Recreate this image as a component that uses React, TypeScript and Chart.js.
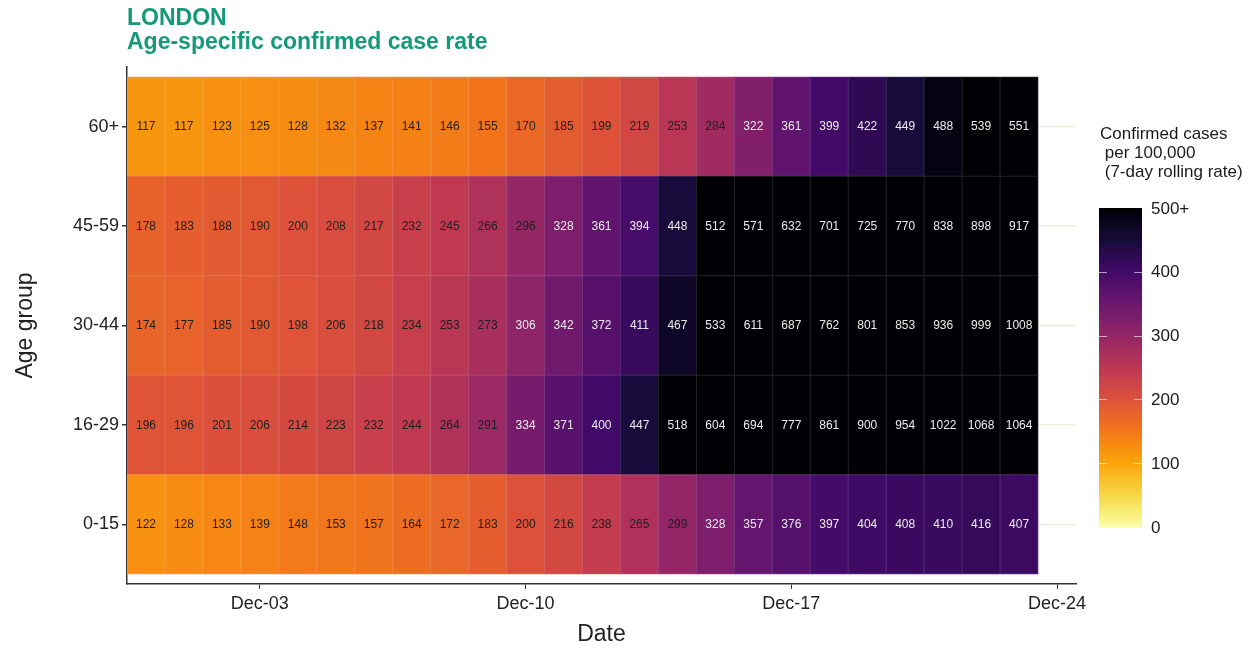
import React, { useEffect, useRef } from "react";
import { Chart, registerables } from "chart.js";

Chart.register(...registerables);

// ---- Data ----
const ageGroups = ["0-15", "16-29", "30-44", "45-59", "60+"];
const dates = [
  "Nov-30", "Dec-01", "Dec-02", "Dec-03", "Dec-04", "Dec-05", "Dec-06", "Dec-07",
  "Dec-08", "Dec-09", "Dec-10", "Dec-11", "Dec-12", "Dec-13", "Dec-14", "Dec-15",
  "Dec-16", "Dec-17", "Dec-18", "Dec-19", "Dec-20", "Dec-21", "Dec-22", "Dec-23",
];
const rate0to15 = [122, 128, 133, 139, 148, 153, 157, 164, 172, 183, 200, 216, 238, 265, 299, 328, 357, 376, 397, 404, 408, 410, 416, 407];
const rate16to29 = [196, 196, 201, 206, 214, 223, 232, 244, 264, 291, 334, 371, 400, 447, 518, 604, 694, 777, 861, 900, 954, 1022, 1068, 1064];
const rate30to44 = [174, 177, 185, 190, 198, 206, 218, 234, 253, 273, 306, 342, 372, 411, 467, 533, 611, 687, 762, 801, 853, 936, 999, 1008];
const rate45to59 = [178, 183, 188, 190, 200, 208, 217, 232, 245, 266, 296, 328, 361, 394, 448, 512, 571, 632, 701, 725, 770, 838, 898, 917];
const rate60plus = [117, 117, 123, 125, 128, 132, 137, 141, 146, 155, 170, 185, 199, 219, 253, 284, 322, 361, 399, 422, 449, 488, 539, 551];
const rowValues = [rate0to15, rate16to29, rate30to44, rate45to59, rate60plus];
const xTickLabels = ["Dec-03", "Dec-10", "Dec-17", "Dec-24"];
const xTickPositions = [3, 10, 17, 24];
const legendTicks = [0, 100, 200, 300, 400, 500];
const legendTickLabels = ["0", "100", "200", "300", "400", "500+"];
const colorMax = 500;

// inferno colormap stops (t = 0 dark -> 1 light)
const inferno = [
  "#000004", "#160b39", "#420a68", "#6a176e", "#932667", "#bc3754",
  "#dd513a", "#f37819", "#fca50a", "#f6d746", "#fcffa4",
];

function hexToRgb(h: string) {
  const n = parseInt(h.slice(1), 16);
  return [(n >> 16) & 255, (n >> 8) & 255, n & 255];
}
function infernoRgb(t: number) {
  t = Math.max(0, Math.min(1, t));
  const p = t * (inferno.length - 1);
  const i = Math.min(inferno.length - 2, Math.floor(p));
  const f = p - i;
  const a = hexToRgb(inferno[i]);
  const b = hexToRgb(inferno[i + 1]);
  return a.map((v, k) => Math.round(v + (b[k] - v) * f));
}
const rgbStr = (c: number[]) => `rgb(${c[0]},${c[1]},${c[2]})`;
function infernoAt(t: number) {
  return rgbStr(infernoRgb(t));
}
function rgbFor(v: number) {
  return infernoRgb(1 - Math.min(v, colorMax) / colorMax);
}
function colorFor(v: number) {
  return rgbStr(rgbFor(v));
}
function edgeFor(v: number) {
  const c = rgbFor(v);
  return rgbStr(c.map((x) => Math.round(x + (255 - x) * 0.14)));
}

const FONT = "'Liberation Sans', Arial, Helvetica, sans-serif";

const cellLabels = {
  id: "cellLabels",
  afterDatasetsDraw(chart: any) {
    const ctx = chart.ctx;
    ctx.save();
    ctx.font = `12px ${FONT}`;
    ctx.textAlign = "center";
    ctx.textBaseline = "middle";
    chart.data.datasets.forEach((ds: any, di: number) => {
      const meta = chart.getDatasetMeta(di);
      meta.data.forEach((el: any, i: number) => {
        const v = rowValues[di][i];
        const cy = (el.y + el.base) / 2;
        ctx.fillStyle = v < 300 ? "#1e1e1e" : "#ececec";
        ctx.fillText(String(v), el.x, cy + 0.5);
      });
    });
    ctx.restore();
  },
};

const decorations = {
  id: "decorations",
  afterDraw(chart: any) {
    const ctx = chart.ctx;
    ctx.save();
    // Titles
    ctx.fillStyle = "#14997a";
    ctx.font = `bold 23px ${FONT}`;
    ctx.textAlign = "left";
    ctx.textBaseline = "middle";
    ctx.fillText("LONDON", 127, 19);
    ctx.fillText("Age-specific confirmed case rate", 127, 43);

    // Legend title
    ctx.fillStyle = "#1a1a1a";
    ctx.font = `17px ${FONT}`;
    ctx.fillText("Confirmed cases", 1100, 134);
    ctx.fillText(" per 100,000", 1100, 153);
    ctx.fillText(" (7-day rolling rate)", 1100, 172);

    // Colour bar
    const bx = 1099, bw = 43, top = 208, bottom = 527;
    const g = ctx.createLinearGradient(0, bottom, 0, top);
    for (let k = 0; k <= 50; k++) {
      g.addColorStop(k / 50, infernoAt(1 - k / 50));
    }
    ctx.fillStyle = g;
    ctx.fillRect(bx, top, bw, bottom - top);
    const yFor = (v: number) => bottom - (v / colorMax) * (bottom - top);
    ctx.strokeStyle = "rgba(255,255,255,0.6)";
    ctx.lineWidth = 1;
    legendTicks.forEach((v) => {
      if (v === 0 || v === colorMax) return;
      const y = Math.round(yFor(v)) + 0.5;
      ctx.beginPath();
      ctx.moveTo(bx, y); ctx.lineTo(bx + 8, y);
      ctx.moveTo(bx + bw - 8, y); ctx.lineTo(bx + bw, y);
      ctx.stroke();
    });
    ctx.fillStyle = "#1a1a1a";
    ctx.font = `17px ${FONT}`;
    legendTicks.forEach((v, i) => {
      ctx.fillText(legendTickLabels[i], 1151, yFor(v) + 1);
    });
    ctx.restore();
  },
};

export default function App() {
  const ref = useRef<HTMLCanvasElement | null>(null);
  useEffect(() => {
    if (!ref.current) return;
    const datasets = rowValues.map((vals, r) => ({
      label: ageGroups[r],
      data: vals.map((v, i) => ({ x: i, y: [r - 0.5, r + 0.5], date: dates[i] })),
      backgroundColor: vals.map((v) => colorFor(v)),
      borderColor: vals.map((v) => edgeFor(v)),
      borderWidth: 1,
      borderSkipped: false,
      inflateAmount: 0.5,
      barPercentage: 1,
      categoryPercentage: 1,
      grouped: false,
    }));
    const chart = new Chart(ref.current, {
      type: "bar",
      data: { datasets: datasets as any },
      options: {
        animation: false,
        responsive: true,
        maintainAspectRatio: false,
        layout: { padding: { top: 67, right: 184, left: 0, bottom: 0 } },
        plugins: { legend: { display: false }, tooltip: { enabled: false } },
        scales: {
          x: {
            type: "linear",
            offset: false,
            min: -0.5,
            max: 24.5,
            afterBuildTicks: (s: any) => {
              s.ticks = xTickPositions.map((v) => ({ value: v }));
            },
            afterFit: (s: any) => {
              s.height = 65;
            },
            ticks: {
              autoSkip: false,
              maxRotation: 0,
              padding: 4,
              color: "#222",
              font: { family: FONT, size: 18 },
              callback: (v: any) => {
                const i = xTickPositions.indexOf(Number(v));
                return i >= 0 ? xTickLabels[i] : null;
              },
            },
            grid: { offset: false, drawOnChartArea: false, drawTicks: true, tickLength: 5, tickColor: "#333" },
            border: { color: "#333", width: 1.5 },
            title: {
              display: true,
              text: "Date",
              color: "#222",
              font: { family: FONT, size: 23 },
              padding: { top: 4, bottom: 1 },
            },
          },
          y: {
            type: "linear",
            min: -0.6,
            max: 4.6,
            afterBuildTicks: (s: any) => {
              s.ticks = ageGroups.map((_, i) => ({ value: i }));
            },
            afterFit: (s: any) => {
              s.width = 127;
            },
            ticks: {
              autoSkip: false,
              padding: 3,
              color: "#222",
              font: { family: FONT, size: 18 },
              callback: (v: any) => ageGroups[Number(v)],
            },
            grid: { drawOnChartArea: true, color: "#efefdf", tickColor: "#333", tickLength: 5, lineWidth: 1.5 },
            border: { color: "#333", width: 1.5 },
            title: {
              display: true,
              text: "Age group",
              color: "#222",
              font: { family: FONT, size: 23 },
              padding: { top: 12, bottom: 4 },
            },
          },
        },
      },
      plugins: [cellLabels, decorations],
    });
    return () => chart.destroy();
  }, []);
  return (
    <div style={{ position: "fixed", left: 0, top: 0, width: 1260, height: 649, background: "#fff" }}>
      <canvas ref={ref} />
    </div>
  );
}
